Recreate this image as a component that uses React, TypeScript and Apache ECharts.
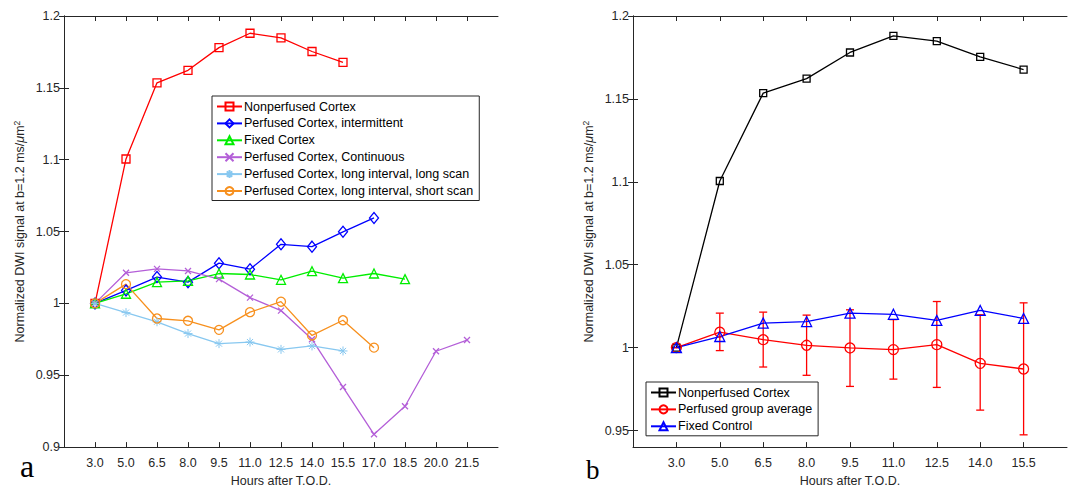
import React, { useEffect, useRef } from "react";
import * as echarts from "echarts";

const leftHours = ["3.0", "5.0", "6.5", "8.0", "9.5", "11.0", "12.5", "14.0", "15.5", "17.0", "18.5", "20.0", "21.5"];
const rightHours = ["3.0", "5.0", "6.5", "8.0", "9.5", "11.0", "12.5", "14.0", "15.5"];

const nonperfused = [1.0, 1.1005, 1.1535, 1.1622, 1.178, 1.188, 1.1848, 1.1753, 1.1677];
const intermittent = [1.0, 1.009, 1.0183, 1.0148, 1.028, 1.0238, 1.0411, 1.0395, 1.0498, 1.0595];
const fixedCortex = [1.0, 1.0067, 1.0148, 1.0157, 1.0208, 1.0201, 1.0164, 1.0224, 1.0176, 1.0208, 1.0169];
const continuous = [1.0, 1.0213, 1.024, 1.0226, 1.0169, 1.004, 0.995, 0.975, 0.9418, 0.9089, 0.9284, 0.9667, 0.9745];
const longIntLongScan = [1.0, 0.9936, 0.9872, 0.979, 0.972, 0.9731, 0.968, 0.9704, 0.9669];
const longIntShortScan = [1.0, 1.0134, 0.9895, 0.9879, 0.9816, 0.9939, 1.0012, 0.9777, 0.9883, 0.9692];

const nonperfusedRight = [1.0, 1.1005, 1.1535, 1.1622, 1.178, 1.188, 1.1848, 1.1753, 1.1677];
const perfusedAvg = [1.0, 1.0093, 1.0048, 1.0014, 0.9998, 0.9988, 1.0018, 0.9905, 0.9871];
const perfusedLow = [1.0, 0.9982, 0.9883, 0.9833, 0.9766, 0.981, 0.976, 0.9623, 0.9474];
const perfusedHigh = [1.0, 1.0208, 1.0214, 1.0196, 1.0228, 1.0169, 1.0278, 1.0198, 1.027];
const fixedControl = [1.0, 1.0067, 1.0148, 1.0157, 1.0208, 1.0201, 1.0164, 1.0224, 1.0176];

const leftYTicks = [0.9, 0.95, 1.0, 1.05, 1.1, 1.15, 1.2];
const rightYTicks = [0.95, 1.0, 1.05, 1.1, 1.15, 1.2];

const FONT = "'Liberation Sans', Arial, Helvetica, sans-serif";
const SERIF = "'Liberation Serif', 'Times New Roman', serif";
const AX = "#262626";

const X_PATH = "path://M0,0L10,10M10,0L0,10";
const STAR_PATH = "path://M5,0L5,10M0,5L10,5M1.6,1.6L8.4,8.4M8.4,1.6L1.6,8.4";

const toPts = (arr: number[]) => arr.map((v, i) => [i + 1, v]);
const fmtY = (v: number) => String(parseFloat(v.toFixed(2)));

function lineSeries(name: string, data: number[], color: string, symbol: string, size: number | number[], idx: number, bw = 1.3) {
  return {
    name,
    type: "line",
    xAxisIndex: idx,
    yAxisIndex: idx,
    data: toPts(data),
    symbol,
    symbolSize: size,
    showAllSymbol: true,
    color,
    lineStyle: { color, width: 1.3 },
    itemStyle: { color: "transparent", borderColor: color, borderWidth: bw },
    emphasis: { disabled: true },
    z: 3,
  };
}

function xAxes(gridIndex: number, cats: string[], max: number) {
  const vals = cats.map((_, i) => i + 1);
  const base = {
    type: "value",
    gridIndex,
    min: 0,
    max,
    splitLine: { show: false },
    axisLine: { show: true, lineStyle: { color: AX, width: 1 } },
    axisTick: { show: true, inside: true, length: 5, customValues: vals, lineStyle: { color: AX } },
  };
  return [
    {
      ...base,
      position: "bottom",
      axisLabel: {
        show: true,
        customValues: vals,
        margin: 9,
        color: AX,
        fontSize: 12.5,
        fontFamily: FONT,
        formatter: (v: number) => cats[Math.round(v) - 1] ?? "",
      },
      name: "Hours after T.O.D.",
      nameLocation: "middle",
      nameGap: 25,
      nameTextStyle: { color: AX, fontSize: 12.5, fontFamily: FONT },
    },
    { ...base, position: "top", axisLabel: { show: false } },
  ];
}

function yAxes(gridIndex: number, min: number, max: number, ticks: number[]) {
  const base = {
    type: "value",
    gridIndex,
    min,
    max,
    splitLine: { show: false },
    axisLine: { show: true, lineStyle: { color: AX, width: 1 } },
    axisTick: { show: true, inside: true, length: 5, customValues: ticks, lineStyle: { color: AX } },
  };
  return [
    {
      ...base,
      position: "left",
      axisLabel: {
        show: true,
        customValues: ticks,
        margin: 4,
        color: AX,
        fontSize: 12.5,
        fontFamily: FONT,
        formatter: (v: number) => fmtY(v),
      },
      name: "Normalized DWI signal at b=1.2 ms/{mu|\u03bc}m{sup|2}",
      nameLocation: "middle",
      nameGap: 36,
      nameTextStyle: {
        color: AX,
        fontSize: 12.5,
        fontFamily: FONT,
        lineHeight: 16,
        rich: {
          mu: { fontStyle: "italic", fontSize: 12.5, fontFamily: FONT, color: AX, lineHeight: 16 },
          sup: { fontSize: 8.5, fontFamily: FONT, color: AX, verticalAlign: "top", lineHeight: 16 },
        },
      },
    },
    { ...base, position: "right", axisLabel: { show: false } },
  ];
}

const legendBase = {
  orient: "vertical",
  itemWidth: 25,
  itemHeight: 10,
  itemGap: 3.9,
  padding: [4, 6, 3, 4],
  borderColor: AX,
  borderWidth: 1,
  backgroundColor: "#ffffff",
  textStyle: { color: "#000", fontSize: 12.5, fontFamily: FONT, padding: [0, 0, 0, -3] },
  selectedMode: false,
};

export default function App() {
  const ref = useRef<HTMLDivElement>(null);
  useEffect(() => {
    if (!ref.current) return;
    const chart = echarts.init(ref.current, undefined, { renderer: "svg" });
    const errData = rightHours.map((_, i) => [i + 1, perfusedLow[i], perfusedHigh[i]]);
    const option: any = {
      animation: false,
      backgroundColor: "#ffffff",
      textStyle: { fontFamily: FONT },
      grid: [
        { left: 64, top: 16, width: 434, height: 434 },
        { left: 633, top: 16, width: 434, height: 435 },
      ],
      xAxis: [...xAxes(0, leftHours, 14), ...xAxes(1, rightHours, 10)],
      yAxis: [...yAxes(0, 0.9, 1.2, leftYTicks), ...yAxes(1, 0.94, 1.2, rightYTicks)],
      legend: [
        {
          ...legendBase,
          left: 212,
          top: 96,
          data: [
            "Nonperfused Cortex",
            "Perfused Cortex, intermittent",
            "Fixed Cortex",
            "Perfused Cortex, Continuous",
            "Perfused Cortex, long interval, long scan",
            "Perfused Cortex, long interval, short scan",
          ],
        },
        {
          ...legendBase,
          left: 646,
          top: 382,
          data: ["Nonperfused Cortex ", "Perfused group average", "Fixed Control"],
        },
      ],
      graphic: [
        { type: "text", left: 20, top: 450, style: { text: "a", font: `32px ${SERIF}`, fill: "#000" } },
        { type: "text", left: 586, top: 456, style: { text: "b", font: `27px ${SERIF}`, fill: "#000" } },
      ],
      series: [
        lineSeries("Nonperfused Cortex", nonperfused, "#ff0000", "rect", 8, 0),
        lineSeries("Perfused Cortex, intermittent", intermittent, "#0000ff", "diamond", [9, 11], 0),
        lineSeries("Fixed Cortex", fixedCortex, "#00ee00", "triangle", 9, 0),
        lineSeries("Perfused Cortex, Continuous", continuous, "#b45fd8", X_PATH, 6, 0),
        lineSeries("Perfused Cortex, long interval, long scan", longIntLongScan, "#88c8f0", STAR_PATH, 9, 0, 1),
        lineSeries("Perfused Cortex, long interval, short scan", longIntShortScan, "#f7901e", "circle", 9, 0),
        {
          type: "custom",
          xAxisIndex: 2,
          yAxisIndex: 2,
          data: errData,
          z: 2,
          silent: true,
          renderItem: (params: any, api: any) => {
            const x = api.value(0);
            const lo = api.coord([x, api.value(1)]);
            const hi = api.coord([x, api.value(2)]);
            const h = 4;
            const st = { stroke: "#ff0000", lineWidth: 1.3 };
            return {
              type: "group",
              children: [
                { type: "line", shape: { x1: lo[0], y1: lo[1], x2: hi[0], y2: hi[1] }, style: st },
                { type: "line", shape: { x1: lo[0] - h, y1: lo[1], x2: lo[0] + h, y2: lo[1] }, style: st },
                { type: "line", shape: { x1: hi[0] - h, y1: hi[1], x2: hi[0] + h, y2: hi[1] }, style: st },
              ],
            };
          },
        },
        lineSeries("Nonperfused Cortex ", nonperfusedRight, "#000000", "rect", 7, 2),
        lineSeries("Perfused group average", perfusedAvg, "#ff0000", "circle", 10, 2),
        lineSeries("Fixed Control", fixedControl, "#0000ff", "triangle", 10, 2),
      ],
    };
    chart.setOption(option);
    return () => chart.dispose();
  }, []);
  return <div ref={ref} style={{ position: "absolute", left: 0, top: 0, width: 1074, height: 492 }} />;
}
